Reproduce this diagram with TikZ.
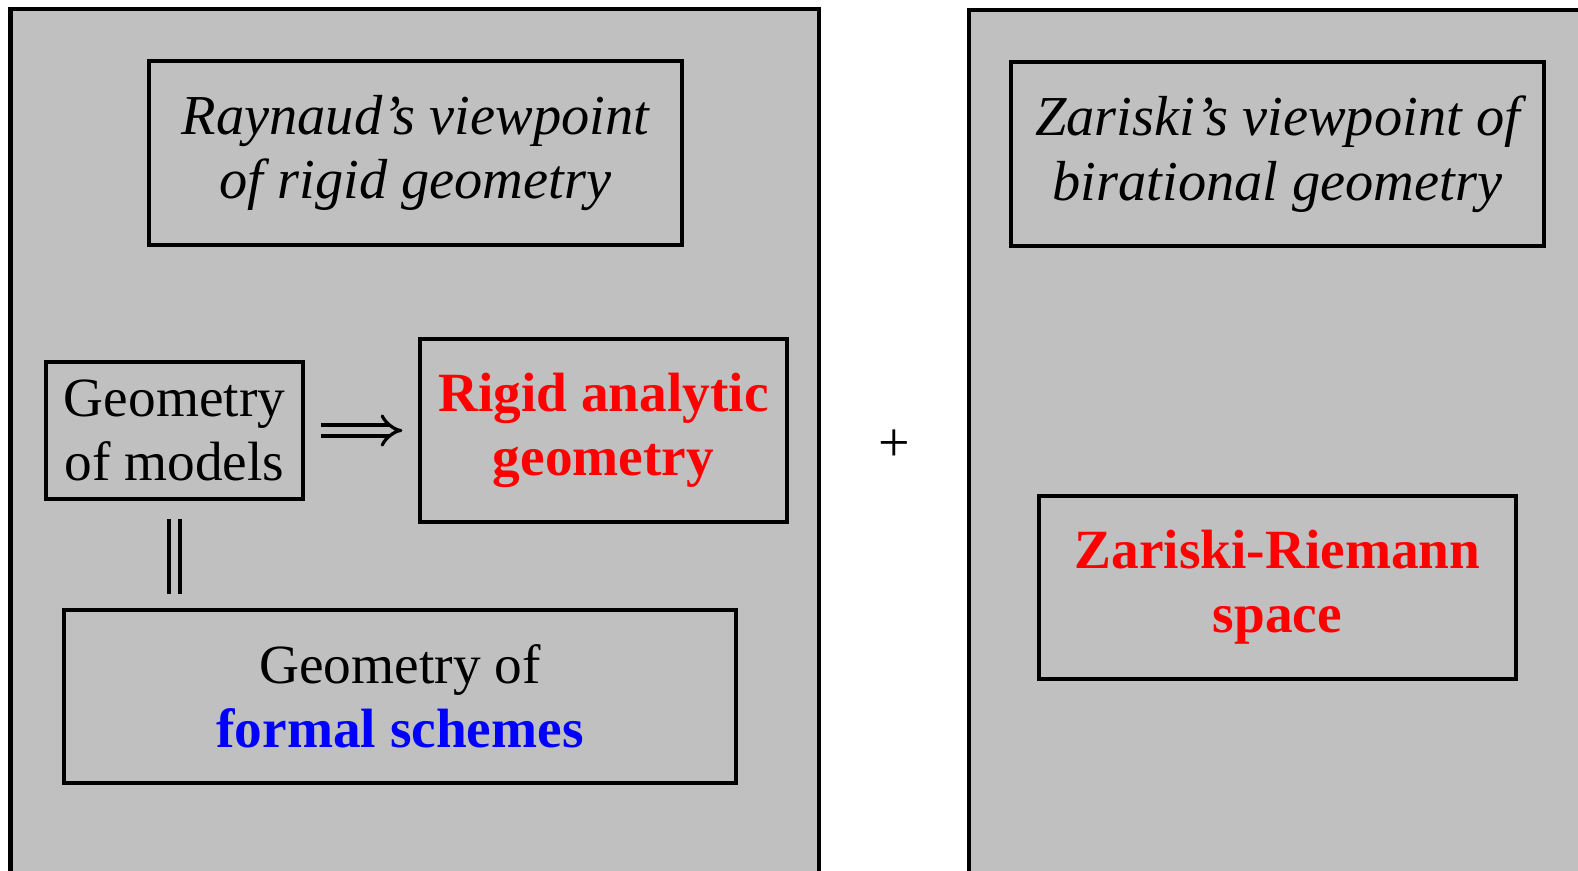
\documentclass[tikz,border=0pt]{standalone}
\usepackage{fontspec}
\setmainfont{Liberation Serif}
\usetikzlibrary{arrows.meta}
\definecolor{panelgray}{RGB}{192,192,192}
\begin{document}
\begin{tikzpicture}[x=0.75pt,y=-0.75pt,
  panel/.style={draw=black,fill=panelgray,line width=3.4pt},
  box/.style={draw=black,line width=2.4pt,inner sep=0pt,align=center,
    font=\fontsize{41.5}{48}\selectfont},
  itbox/.style={box,font=\fontsize{42.3}{48.5}\selectfont\itshape},
  redbox/.style={box,text=red,font=\fontsize{41.5}{48}\selectfont\bfseries},
  dbl/.style={line width=2.4pt,double=panelgray,double distance=5.8pt},
]
\useasboundingbox (0,0) rectangle (1578,871);
\clip (0,0) rectangle (1578,871);
\fill[white] (0,0) rectangle (1578,871);
\draw[panel] (10.5,9) rectangle (819,920);
\draw[panel] (969,10) rectangle (1620,920);

\node[itbox,minimum width=533*0.75pt,minimum height=184*0.75pt] (raynaud) at (415.5,153)
  {Raynaud's viewpoint\\of rigid geometry};
\node[itbox,minimum width=533*0.75pt,minimum height=184*0.75pt] (zview) at (1277.5,154)
  {Zariski's viewpoint of\\birational geometry};
\node[box,minimum width=257*0.75pt,minimum height=137*0.75pt] (models) at (174.5,430.5)
  {Geometry\\of models};
\node[redbox,minimum width=367*0.75pt,minimum height=183*0.75pt] (rigid) at (603.5,430.5)
  {Rigid analytic\\geometry};
\node[box,minimum width=672*0.75pt,minimum height=173*0.75pt] (formal) at (400,696.5)
  {Geometry of\\\textcolor{blue}{\bfseries formal schemes}};
\node[redbox,minimum width=477*0.75pt,minimum height=183*0.75pt] (zr) at (1277.5,587.5)
  {Zariski-Riemann\\space};
\node[font=\fontsize{42}{48}\selectfont] (plus) at (894,446) {+};

\draw[dbl,-{Implies[length=14pt,width=24pt]},
  shorten <=12pt,shorten >=12pt] (models.east) -- (rigid.west |- models.east);
\draw[dbl,shorten <=13.5pt,shorten >=10.5pt] (models.south) -- (formal.north -| models.south);
\end{tikzpicture}
\end{document}
